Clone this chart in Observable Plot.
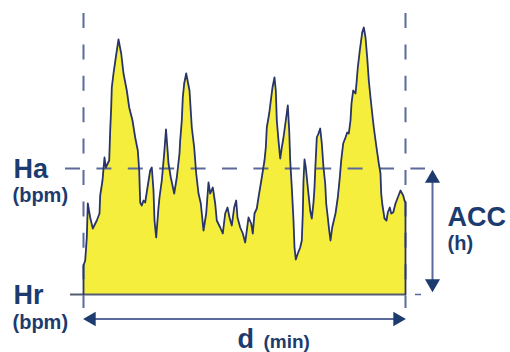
<!DOCTYPE html>
<html><head><meta charset="utf-8">
<script src="https://cdn.jsdelivr.net/npm/d3@7"></script>
<script src="https://cdn.jsdelivr.net/npm/@observablehq/plot@0.6"></script>
<style>body{margin:0;background:#fff}</style>
</head><body><div id="chart"></div>
<script>
// schematic time axis (arbitrary units) and heart-rate above resting level (arbitrary units)
const time = [0,0,1.7,3.3,4.3,6.7,9.3,13.3,16,16.7,19,21,22.3,25.7,26.7,27.7,28.3,30,32.3,35,37.7,40,43.3,45.7,49,51.7,54.3,55.7,56.7,58.3,60,61.7,64,66.7,68.3,70,71,72.7,75,76,78.3,80.7,82.5,84.3,85,87.3,90.7,93.3,96,96.7,98.3,99.3,100.7,102.7,106,108.3,110.7,112.7,115,117.3,120,122.7,125,126.7,129.3,131.7,133.3,136.7,139.3,141.7,144,146,148.3,150.7,152.7,154,156.7,159.3,161.7,163.3,165,167.7,169.3,171,173.3,175,178.3,181,182.3,183.3,185.7,187.7,189,191,192.3,193.3,195,196.7,198.3,200,202.3,204.3,205.7,206.7,208.3,210,211,212.3,214.3,216.7,218.3,219.3,220,221,222.3,224.3,226.7,228.3,230,231,231.7,233.3,235,236.7,238.3,240,241.7,242.7,244.3,245.7,247,248.7,252,254.3,256.3,257.7,259.7,262,263.7,265.3,267,268,269.7,272,273,274.3,276.3,278.7,280.3,282,283.7,285.3,287,288.7,290.3,293,295.3,297,297.7,298.7,301,303,304.3,306.3,307.7,309.7,312,314.3,317,319.7,321,322,322];
const hr = [0,29,34,57,91,77,66,74,81,99,114,137,127,134,164,187,207,221,237,255,241,221,204,187,174,157,144,124,92,89,94,92,107,124,127,104,74,57,87,97,114,141,165,141,131,117,101,117,141,154,174,197,211,221,204,167,147,121,101,91,64,81,112,101,107,91,74,67,61,81,87,77,69,87,94,77,67,61,52,64,77,71,61,81,86,97,117,134,147,167,181,197,207,217,204,174,154,136,147,157,174,189,164,134,107,74,47,35,41,47,54,81,114,135,127,107,84,76,92,107,124,157,161,166,151,127,111,91,77,64,54,67,81,97,117,134,151,157,162,161,174,191,204,201,211,227,244,262,267,257,237,214,197,181,167,147,131,121,101,91,76,74,82,87,81,82,91,97,104,99,94,92,0];

const restLevel = 0;      // Hr
const activeLevel = 126;  // Ha
const restLabel = "Hr", activeLabel = "Ha", hrUnit = "(bpm)";
const accLabel = "ACC", accUnit = "(h)";
const durLabel = "d", durUnit = "(min)";

const data = time.map((t, i) => ({t, h: hr[i]}));
const tStart = d3.min(time), tEnd = d3.max(time);
const tMid = (tStart + tEnd) / 2;

const navy = "#1d3b6e", dash = "#5b6a9b", yellow = "#f6ee3c";
const font = {fontFamily: "'Liberation Sans', Arial, sans-serif", fontWeight: "bold", fill: navy, textAnchor: "start", lineAnchor: "bottom"};

const chart = Plot.plot({
  width: 510, height: 352,
  marginLeft: 83, marginRight: 105, marginTop: 14, marginBottom: 58,
  x: {domain: [tStart, tEnd], axis: null},
  y: {domain: [0, 280], axis: null},
  style: {fontFamily: "'Liberation Sans', Arial, sans-serif", background: "#fff"},
  marks: [
    Plot.areaY(data, {x: "t", y: "h", fill: yellow, curve: "linear"}),
    Plot.ruleX([tStart, tEnd], {y1: 281, y2: -14, stroke: dash, strokeWidth: 2, strokeDasharray: "15,16.4"}),
    Plot.ruleY([activeLevel], {x1: tStart - 18, x2: tEnd + 20, stroke: dash, strokeWidth: 1.8, strokeDasharray: "15,16.4"}),
    Plot.ruleY([restLevel], {x1: tStart - 13, x2: tEnd, stroke: "#555c72", strokeWidth: 2}),
    Plot.ruleY([restLevel], {x1: tEnd + 10, x2: tEnd + 16, stroke: dash, strokeWidth: 1.5}),
    Plot.line(data, {x: "t", y: "h", stroke: "#28346a", strokeWidth: 1.8}),
    // ACC double arrow
    Plot.link([0], {x1: () => tEnd + 27, x2: () => tEnd + 27, y1: () => activeLevel - 8, y2: () => restLevel + 10, stroke: dash, strokeWidth: 2}),
    Plot.dot([activeLevel], {x: () => tEnd + 27, y: d => d, dy: 10, symbol: "triangle", r: 5.6, fill: navy, rotate: 0}),
    Plot.dot([restLevel], {x: () => tEnd + 27, y: d => d, dy: -11, symbol: "triangle", r: 5.6, fill: navy, rotate: 180}),
    // duration double arrow
    Plot.link([0], {x1: () => tStart + 8, x2: () => tEnd - 8, y1: () => restLevel, y2: () => restLevel, dy: 24.5, stroke: dash, strokeWidth: 2}),
    Plot.dot([tStart], {x: d => d, y: () => restLevel, dx: 8, dy: 24.5, symbol: "triangle", r: 5.4, fill: navy, rotate: -90}),
    Plot.dot([tEnd], {x: d => d, y: () => restLevel, dx: -8, dy: 24.5, symbol: "triangle", r: 5.4, fill: navy, rotate: 90}),
    // labels
    Plot.text([activeLabel], {x: () => tStart, y: () => activeLevel, dx: -70, dy: 9, fontSize: 27, ...font, text: d => d}),
    Plot.text([hrUnit], {x: () => tStart, y: () => activeLevel, dx: -71, dy: 33, fontSize: 20, ...font, text: d => d}),
    Plot.text([restLabel], {x: () => tStart, y: () => restLevel, dx: -70, dy: 9, fontSize: 27, ...font, text: d => d}),
    Plot.text([hrUnit], {x: () => tStart, y: () => restLevel, dx: -71, dy: 34, fontSize: 20, ...font, text: d => d}),
    Plot.text([accLabel], {x: () => tEnd, y: () => activeLevel, dx: 42, dy: 57, fontSize: 27, ...font, text: d => d}),
    Plot.text([accUnit], {x: () => tEnd, y: () => activeLevel, dx: 42, dy: 81, fontSize: 20, ...font, text: d => d}),
    Plot.text([durLabel], {x: () => tMid, y: () => restLevel, dx: -7, dy: 53, fontSize: 27, ...font, text: d => d}),
    Plot.text([durUnit], {x: () => tMid, y: () => restLevel, dx: 19, dy: 53, fontSize: 19, ...font, text: d => d})
  ]
});
document.getElementById("chart").appendChild(chart);
</script>
</body></html>
